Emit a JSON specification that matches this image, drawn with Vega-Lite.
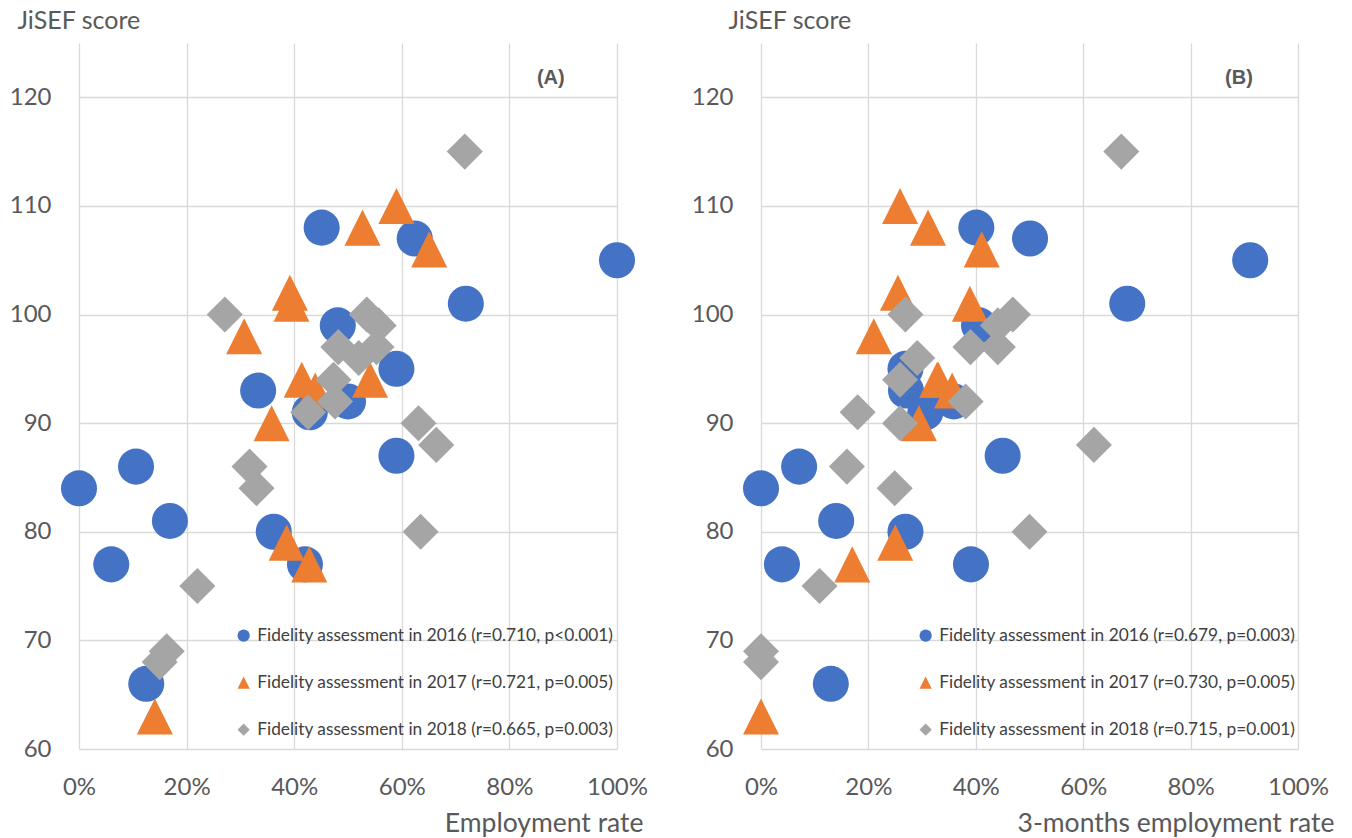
{
  "$schema": "https://vega.github.io/schema/vega-lite/v6.json",
  "background": "white",
  "padding": {"left": 9, "top": 8, "right": 5, "bottom": 5},
  "spacing": 144,
  "bounds": "flush",
  "config": {
    "view": {"stroke": null},
    "font": "Lato",
    "axis": {
      "grid": true, "gridColor": "#D9D9D9", "gridWidth": 1.3,
      "domain": false, "ticks": false, "labelFlush": false, "labelOverlap": false,
      "labelFont": "Lato", "labelFontSize": 24, "labelColor": "#595959",
      "titleFont": "Lato", "titleFontSize": 26.5, "titleFontWeight": "normal", "titleColor": "#595959"
    },
    "legend": {
      "orient": "none", "title": null,
      "labelFont": "Lato", "labelFontSize": 17.3, "labelColor": "#404040",
      "symbolSize": 150, "symbolOpacity": 1, "symbolStrokeWidth": 0,
      "rowPadding": 29, "labelOffset": 5, "labelLimit": 600
    }
  },
  "resolve": {"scale": {"color": "independent", "shape": "independent"}},
  "datasets": {
    "A": [
      {"year": "2016", "rate": 0.0, "score": 84},
      {"year": "2016", "rate": 0.06, "score": 77},
      {"year": "2016", "rate": 0.106, "score": 86},
      {"year": "2016", "rate": 0.125, "score": 66},
      {"year": "2016", "rate": 0.169, "score": 81},
      {"year": "2016", "rate": 0.333, "score": 93},
      {"year": "2016", "rate": 0.362, "score": 80},
      {"year": "2016", "rate": 0.42, "score": 77},
      {"year": "2016", "rate": 0.429, "score": 91},
      {"year": "2016", "rate": 0.451, "score": 108},
      {"year": "2016", "rate": 0.481, "score": 99},
      {"year": "2016", "rate": 0.5, "score": 92},
      {"year": "2016", "rate": 0.59, "score": 95},
      {"year": "2016", "rate": 0.59, "score": 87},
      {"year": "2016", "rate": 0.624, "score": 107},
      {"year": "2016", "rate": 0.719, "score": 101},
      {"year": "2016", "rate": 1.0, "score": 105},
      {"year": "2017", "rate": 0.141, "score": 63},
      {"year": "2017", "rate": 0.307, "score": 98},
      {"year": "2017", "rate": 0.358, "score": 90},
      {"year": "2017", "rate": 0.386, "score": 79},
      {"year": "2017", "rate": 0.392, "score": 102},
      {"year": "2017", "rate": 0.395, "score": 101},
      {"year": "2017", "rate": 0.414, "score": 94},
      {"year": "2017", "rate": 0.439, "score": 93},
      {"year": "2017", "rate": 0.428, "score": 77},
      {"year": "2017", "rate": 0.527, "score": 108},
      {"year": "2017", "rate": 0.541, "score": 94},
      {"year": "2017", "rate": 0.59, "score": 110},
      {"year": "2017", "rate": 0.651, "score": 106},
      {"year": "2018", "rate": 0.15, "score": 68},
      {"year": "2018", "rate": 0.163, "score": 69},
      {"year": "2018", "rate": 0.22, "score": 75},
      {"year": "2018", "rate": 0.271, "score": 100},
      {"year": "2018", "rate": 0.317, "score": 86},
      {"year": "2018", "rate": 0.33, "score": 84},
      {"year": "2018", "rate": 0.426, "score": 91},
      {"year": "2018", "rate": 0.476, "score": 92},
      {"year": "2018", "rate": 0.473, "score": 94},
      {"year": "2018", "rate": 0.482, "score": 97},
      {"year": "2018", "rate": 0.52, "score": 96},
      {"year": "2018", "rate": 0.535, "score": 100},
      {"year": "2018", "rate": 0.553, "score": 97},
      {"year": "2018", "rate": 0.557, "score": 99},
      {"year": "2018", "rate": 0.631, "score": 90},
      {"year": "2018", "rate": 0.664, "score": 88},
      {"year": "2018", "rate": 0.635, "score": 80},
      {"year": "2018", "rate": 0.717, "score": 115}
    ],
    "B": [
      {"year": "2016", "rate": 0.0, "score": 84},
      {"year": "2016", "rate": 0.039, "score": 77},
      {"year": "2016", "rate": 0.071, "score": 86},
      {"year": "2016", "rate": 0.13, "score": 66},
      {"year": "2016", "rate": 0.14, "score": 81},
      {"year": "2016", "rate": 0.269, "score": 80},
      {"year": "2016", "rate": 0.269, "score": 95},
      {"year": "2016", "rate": 0.27, "score": 93},
      {"year": "2016", "rate": 0.306, "score": 91},
      {"year": "2016", "rate": 0.359, "score": 92},
      {"year": "2016", "rate": 0.391, "score": 77},
      {"year": "2016", "rate": 0.401, "score": 108},
      {"year": "2016", "rate": 0.406, "score": 99},
      {"year": "2016", "rate": 0.45, "score": 87},
      {"year": "2016", "rate": 0.501, "score": 107},
      {"year": "2016", "rate": 0.682, "score": 101},
      {"year": "2016", "rate": 0.911, "score": 105},
      {"year": "2017", "rate": 0.0, "score": 63},
      {"year": "2017", "rate": 0.17, "score": 77},
      {"year": "2017", "rate": 0.21, "score": 98},
      {"year": "2017", "rate": 0.25, "score": 79},
      {"year": "2017", "rate": 0.259, "score": 110},
      {"year": "2017", "rate": 0.255, "score": 102},
      {"year": "2017", "rate": 0.294, "score": 90},
      {"year": "2017", "rate": 0.311, "score": 108},
      {"year": "2017", "rate": 0.328, "score": 94},
      {"year": "2017", "rate": 0.33, "score": 94},
      {"year": "2017", "rate": 0.356, "score": 93},
      {"year": "2017", "rate": 0.389, "score": 101},
      {"year": "2017", "rate": 0.411, "score": 106},
      {"year": "2018", "rate": 0.0, "score": 68},
      {"year": "2018", "rate": 0.0, "score": 69},
      {"year": "2018", "rate": 0.109, "score": 75},
      {"year": "2018", "rate": 0.16, "score": 86},
      {"year": "2018", "rate": 0.18, "score": 91},
      {"year": "2018", "rate": 0.249, "score": 84},
      {"year": "2018", "rate": 0.259, "score": 90},
      {"year": "2018", "rate": 0.259, "score": 94},
      {"year": "2018", "rate": 0.269, "score": 100},
      {"year": "2018", "rate": 0.291, "score": 96},
      {"year": "2018", "rate": 0.381, "score": 92},
      {"year": "2018", "rate": 0.39, "score": 97},
      {"year": "2018", "rate": 0.441, "score": 97},
      {"year": "2018", "rate": 0.441, "score": 99},
      {"year": "2018", "rate": 0.469, "score": 100},
      {"year": "2018", "rate": 0.5, "score": 80},
      {"year": "2018", "rate": 0.62, "score": 88},
      {"year": "2018", "rate": 0.671, "score": 115}
    ]
  },
  "hconcat": [
    {
      "width": 538,
      "height": 706,
      "layer": [
        {
          "data": {"name": "A"},
          "mark": {"type": "point", "filled": true, "size": 1300, "opacity": 1, "strokeWidth": 0},
          "encoding": {
            "x": {
              "field": "rate", "type": "quantitative",
              "scale": {"domain": [0, 1], "nice": false, "zero": false},
              "axis": {
                "format": ".0%", "values": [0, 0.2, 0.4, 0.6, 0.8, 1], "labelPadding": 26,
                "title": "Employment rate", "titleAlign": "right", "titleBaseline": "alphabetic",
                "titleX": 564, "titleY": 82
              }
            },
            "y": {
              "field": "score", "type": "quantitative",
              "scale": {"domain": [60, 125], "nice": false, "zero": false},
              "axis": {
                "values": [60, 70, 80, 90, 100, 110, 120], "labelPadding": 28,
                "title": "JiSEF score", "titleAngle": 0, "titleAlign": "left", "titleBaseline": "top",
                "titleFontSize": 25, "titleX": -62, "titleY": -35
              }
            },
            "color": {
              "field": "year", "type": "nominal",
              "scale": {"domain": ["2016", "2017", "2018"], "range": ["#4472C4", "#ED7D31", "#A5A5A5"]},
              "legend": {
                "legendX": 156, "legendY": 584,
                "labelExpr": "datum.label == '2016' ? 'Fidelity assessment in 2016 (r=0.710, p<0.001)' : datum.label == '2017' ? 'Fidelity assessment in 2017 (r=0.721, p=0.005)' : 'Fidelity assessment in 2018 (r=0.665, p=0.003)'"
              }
            },
            "shape": {
              "field": "year", "type": "nominal",
              "scale": {"domain": ["2016", "2017", "2018"], "range": ["circle", "M0,-1L1,1L-1,1Z", "diamond"]},
              "legend": {
                "legendX": 156, "legendY": 584,
                "labelExpr": "datum.label == '2016' ? 'Fidelity assessment in 2016 (r=0.710, p<0.001)' : datum.label == '2017' ? 'Fidelity assessment in 2017 (r=0.721, p=0.005)' : 'Fidelity assessment in 2018 (r=0.665, p=0.003)'"
              }
            }
          }
        },
        {
          "data": {"values": [{"panel": "(A)"}]},
          "mark": {"type": "text", "font": "Liberation Sans", "fontSize": 20, "fontWeight": "bold", "color": "#595959", "align": "center", "baseline": "middle"},
          "encoding": {
            "x": {"datum": 0.877},
            "y": {"datum": 121.8},
            "text": {"field": "panel"}
          }
        }
      ]
    },
    {
      "width": 537,
      "height": 706,
      "layer": [
        {
          "data": {"name": "B"},
          "mark": {"type": "point", "filled": true, "size": 1300, "opacity": 1, "strokeWidth": 0},
          "encoding": {
            "x": {
              "field": "rate", "type": "quantitative",
              "scale": {"domain": [0, 1], "nice": false, "zero": false},
              "axis": {
                "format": ".0%", "values": [0, 0.2, 0.4, 0.6, 0.8, 1], "labelPadding": 26,
                "title": "3-months employment rate", "titleAlign": "right", "titleBaseline": "alphabetic",
                "titleX": 573, "titleY": 82
              }
            },
            "y": {
              "field": "score", "type": "quantitative",
              "scale": {"domain": [60, 125], "nice": false, "zero": false},
              "axis": {
                "values": [60, 70, 80, 90, 100, 110, 120], "labelPadding": 28,
                "title": "JiSEF score", "titleAngle": 0, "titleAlign": "left", "titleBaseline": "top",
                "titleFontSize": 25, "titleX": -33, "titleY": -35
              }
            },
            "color": {
              "field": "year", "type": "nominal",
              "scale": {"domain": ["2016", "2017", "2018"], "range": ["#4472C4", "#ED7D31", "#A5A5A5"]},
              "legend": {
                "legendX": 156, "legendY": 584,
                "labelExpr": "datum.label == '2016' ? 'Fidelity assessment in 2016 (r=0.679, p=0.003)' : datum.label == '2017' ? 'Fidelity assessment in 2017 (r=0.730, p=0.005)' : 'Fidelity assessment in 2018 (r=0.715, p=0.001)'"
              }
            },
            "shape": {
              "field": "year", "type": "nominal",
              "scale": {"domain": ["2016", "2017", "2018"], "range": ["circle", "M0,-1L1,1L-1,1Z", "diamond"]},
              "legend": {
                "legendX": 156, "legendY": 584,
                "labelExpr": "datum.label == '2016' ? 'Fidelity assessment in 2016 (r=0.679, p=0.003)' : datum.label == '2017' ? 'Fidelity assessment in 2017 (r=0.730, p=0.005)' : 'Fidelity assessment in 2018 (r=0.715, p=0.001)'"
              }
            }
          }
        },
        {
          "data": {"values": [{"panel": "(B)"}]},
          "mark": {"type": "text", "font": "Liberation Sans", "fontSize": 20, "fontWeight": "bold", "color": "#595959", "align": "center", "baseline": "middle"},
          "encoding": {
            "x": {"datum": 0.89},
            "y": {"datum": 121.8},
            "text": {"field": "panel"}
          }
        }
      ]
    }
  ]
}
